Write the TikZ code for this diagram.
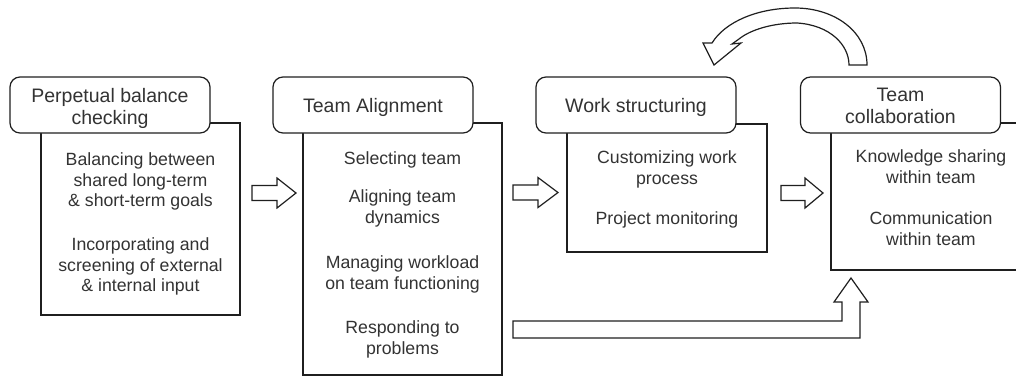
\documentclass[tikz,border=0pt]{standalone}
\usepackage{fontspec}
\setmainfont{Liberation Sans}
\begin{document}
\begin{tikzpicture}[x=1bp,y=-1bp,
  line/.style={draw=black!88,line width=1.2bp},
  titlebox/.style={line,fill=white,rounded corners=10bp,minimum width=200bp,minimum height=56bp,inner sep=0pt},
  bodybox/.style={line,fill=white,inner sep=0pt},
  titletext/.style={anchor=north,align=center,inner sep=0pt,text=black!80,font=\fontsize{19.5bp}{22bp}\selectfont},
  bodytext/.style={anchor=north,align=center,inner sep=0pt,text=black!80,font=\fontsize{17.7bp}{20.5bp}\selectfont},
  blockarrow/.style={line,fill=white,line join=miter}]
\fill[white] (0,0) rectangle (1016,379);
\clip (0,0) rectangle (1016,379);

% bodies of the four stages
\node[bodybox,minimum width=199bp,minimum height=192bp] (b1) at (140.5,219) {};
\node[bodybox,minimum width=199bp,minimum height=252bp] (b2) at (402.5,249) {};
\node[bodybox,minimum width=200bp,minimum height=128bp] (b3) at (667,188) {};
\node[bodybox,minimum width=200bp,minimum height=147bp] (b4) at (931,196.5) {};

% rounded title boxes on top
\node[titlebox] (t1) at (110,105) {};
\node[titlebox] (t2) at (373,105) {};
\node[titlebox] (t3) at (636,105) {};
\node[titlebox] (t4) at (900.5,105) {};

% titles
\node[titletext] (t1txt) at (110,86.6) {\strut Perpetual balance\\checking};
\node[titletext] (t2txt) at (373,96.6) {\strut Team Alignment};
\node[titletext] (t3txt) at (636,96.6) {\strut Work structuring};
\node[titletext] (t4txt) at (900.5,85.6) {\strut Team\\collaboration};

% stage contents
\node[bodytext] (p11) at (140.5,151) {\strut Balancing between\\shared long-term\\\& short-term goals};
\node[bodytext] (p12) at (140.5,236) {\strut Incorporating and\\screening of external\\\& internal input};

\node[bodytext] (p21) at (402.5,150) {\strut Selecting team};
\node[bodytext] (p22) at (402.5,188) {\strut Aligning team\\dynamics};
\node[bodytext] (p23) at (402.5,254) {\strut Managing workload\\on team functioning};
\node[bodytext] (p24) at (402.5,319) {\strut Responding to\\problems};

\node[bodytext] (p31) at (667,149) {\strut Customizing work\\process};
\node[bodytext] (p32) at (667,210) {\strut Project monitoring};

\node[bodytext] (p41) at (931,148) {\strut Knowledge sharing\\within team};
\node[bodytext] (p42) at (931,210) {\strut Communication\\within team};

% block arrows between stages
\draw[blockarrow] (252,185.5) -- (277,185.5) -- (277,178) -- (296,193) -- (277,208) -- (277,200.5) -- (252,200.5) -- cycle;
\draw[blockarrow] (513,185) -- (538,185) -- (538,177.5) -- (558,192.5) -- (538,207.5) -- (538,200) -- (513,200) -- cycle;
\draw[blockarrow] (781,185.5) -- (805,185.5) -- (805,178) -- (823,193) -- (805,208) -- (805,200.5) -- (781,200.5) -- cycle;

% bent arrow from the team alignment stage up into team collaboration
\draw[blockarrow] (513,321) -- (842,321) -- (842,302) -- (834,302) -- (851,278) -- (868,302)
  -- (860,302) -- (860,338) -- (513,338) -- cycle;

% curved feedback arrow back to work structuring
\draw[blockarrow] (867,65) .. controls (867,32) and (835,8) .. (795,8)
  .. controls (757,8) and (725,22) .. (712,43)
  -- (703,43) -- (714,65) -- (741,43) -- (732,44) -- (739,39)
  .. controls (750,30) and (772,23) .. (797,23)
  .. controls (830,25) and (849,45) .. (849,65) -- cycle;
\end{tikzpicture}
\end{document}
